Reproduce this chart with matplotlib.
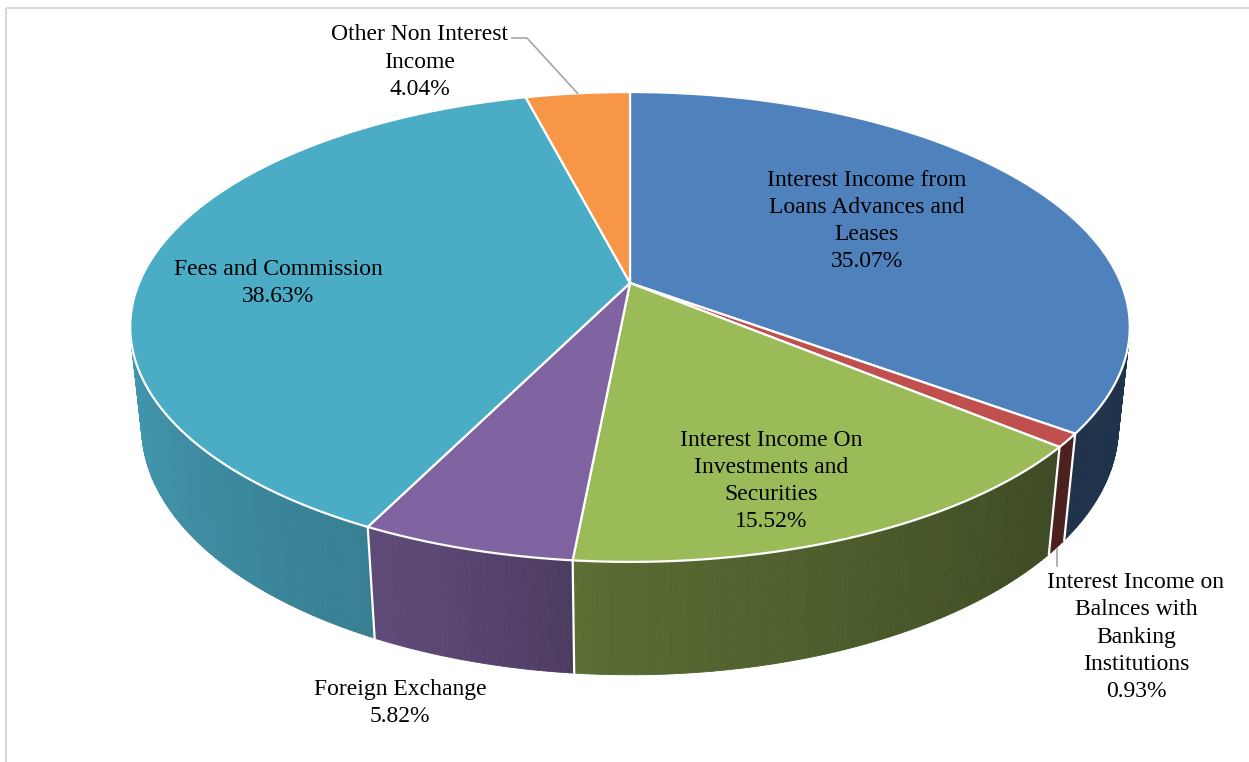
import matplotlib.pyplot as plt
import numpy as np
from matplotlib.collections import PolyCollection
from matplotlib.patches import Polygon, Rectangle

plt.rcParams["font.family"] = ["Liberation Serif", "DejaVu Serif"]

labels = [
    "Interest Income from\nLoans Advances and\nLeases",
    "Interest Income on\nBalnces with\nBanking\nInstitutions",
    "Interest Income On\nInvestments and\nSecurities",
    "Foreign Exchange",
    "Fees and Commission",
    "Other Non Interest\nIncome",
]
shares = [35.07, 0.93, 15.52, 5.82, 38.63, 4.04]
colors = ["#4F81BD", "#C0504D", "#9BBB59", "#8064A2", "#4BACC6", "#F79646"]

# label centres in figure pixels (x, y from top)
label_pos = [(867, 221), (1136, 637), (771, 481), (400, 703), (278, 283), (420, 62)]

# 3-D view of the pie
ELEV = np.radians(27.5)
DIST = 4.74
FOCAL = 2327
THICK = 0.231
CX, CY = 630, 283


def project(theta, z):
    x, y = np.cos(theta), np.sin(theta)
    c, s = np.cos(ELEV), np.sin(ELEV)
    depth = y * c - z * s + DIST
    return CX + FOCAL * x / depth, CY - FOCAL * (y * s + z * c) / depth, depth


def shade(theta_deg):
    a = np.mod(theta_deg, 360)
    return np.interp(a, [180, 195, 250, 268, 322, 360], [0.9, 0.88, 0.72, 0.57, 0.39, 0.4])


fig = plt.figure(figsize=(12.49, 7.62), dpi=100)
ax = fig.add_axes([0, 0, 1, 1])
ax.set_xlim(0, 1249)
ax.set_ylim(762, 0)
ax.axis("off")

ax.add_patch(Rectangle((6, 8), 1400, 900, fill=False, edgecolor="#D9D9D9", lw=1.6))

total = sum(shares)
edges = 90 - np.concatenate([[0], np.cumsum(shares)]) / total * 360

# side wall
quads, qcols, qdepth = [], [], []
for i, col in enumerate(colors):
    base = np.array(plt.matplotlib.colors.to_rgb(col))
    n = max(int(abs(edges[i] - edges[i + 1]) * 2), 2)
    th = np.linspace(edges[i], edges[i + 1], n + 1)
    for a0, a1 in zip(th[:-1], th[1:]):
        r0, r1 = np.radians(a0), np.radians(a1)
        x0, y0, d0 = project(r0, 0)
        x1, y1, d1 = project(r1, 0)
        x2, y2, _ = project(r1, -THICK)
        x3, y3, _ = project(r0, -THICK)
        quads.append([(x0, y0), (x1, y1), (x2, y2), (x3, y3)])
        qcols.append(np.clip(base * shade((a0 + a1) / 2), 0, 1))
        qdepth.append((d0 + d1) / 2)
order = np.argsort(qdepth)[::-1]
pc = PolyCollection([quads[k] for k in order], facecolors=[qcols[k] for k in order],
                    edgecolors=[qcols[k] for k in order], linewidths=0.6)
ax.add_collection(pc)

# white seams on the side wall
for a in edges[:-1]:
    r = np.radians(a)
    if np.sin(r) < -0.24:
        xt, yt, _ = project(r, 0)
        xb, yb, _ = project(r, -THICK)
        ax.plot([xt, xb], [yt, yb], color="white", lw=1.6)

# top faces
for i, col in enumerate(colors):
    th = np.radians(np.linspace(edges[i], edges[i + 1], 200))
    px, py, _ = project(th, 0)
    pts = [(CX, CY)] + list(zip(px, py))
    ax.add_patch(Polygon(pts, closed=True, facecolor=col, edgecolor="white", lw=1.6,
                         joinstyle="round"))

# labels
for i, (lab, (lx, ly)) in enumerate(zip(labels, label_pos)):
    ax.text(lx, ly, f"{lab}\n{shares[i]:.2f}%", ha="center", va="center", fontsize=17,
            linespacing=1.39, color="black")

# leader lines
mid = np.radians((edges[:-1] + edges[1:]) / 2)
ox, oy, _ = project(mid[5], 0)
ax.plot([512, 527, ox], [38, 38, oy], color="#A6A6A6", lw=1.2)
bx, by, _ = project(mid[1], -THICK)
ax.plot([bx, bx], [by + 2, 566], color="#A6A6A6", lw=1.2)

fig.savefig("out.png", dpi=100)
